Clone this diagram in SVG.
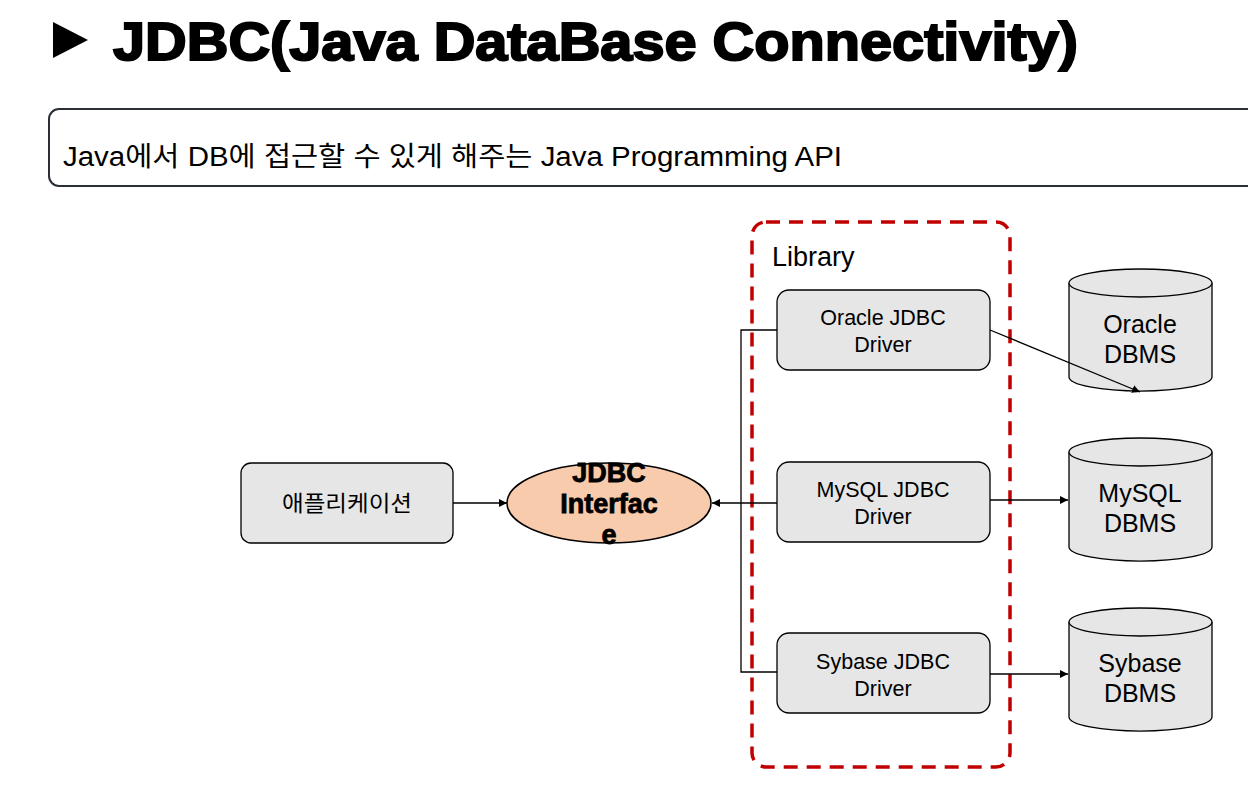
<svg xmlns="http://www.w3.org/2000/svg" width="1248" height="788" viewBox="0 0 1248 788">
<defs>
<marker id="ah" viewBox="0 0 10 10" refX="10" refY="5" markerWidth="8" markerHeight="8" orient="auto" markerUnits="userSpaceOnUse"><path d="M0,0L10,5L0,10z" fill="#000"/></marker>
<style>
text{font-family:"Liberation Sans","Noto Sans CJK KR",sans-serif;fill:#000}
.box{fill:#e6e6e6;stroke:#000;stroke-width:1.3}
.lbl{font-size:21.5px;text-anchor:middle}
.db{fill:#e6e6e6;stroke:#000;stroke-width:1.3}
.dbt{font-size:25px;text-anchor:middle}
.c{fill:none;stroke:#000;stroke-width:1.3}
</style>
</defs>
<rect width="1248" height="788" fill="#fff"/>
<g id="title">
<path d="M53,22L88,40L53,58z" fill="#000"/>
<text x="113" y="60" font-size="53" font-weight="bold" stroke="#000" stroke-width="2" textLength="965" lengthAdjust="spacingAndGlyphs">JDBC(Java DataBase Connectivity)</text>
</g>
<g id="desc">
<rect x="49" y="109" width="1230" height="77" rx="10" fill="#fff" stroke="#2a2f36" stroke-width="2"/>
<text x="63" y="166" font-size="27" textLength="779" lengthAdjust="spacingAndGlyphs">Java에서 DB에 접근할 수 있게 해주는 Java Programming API</text>
</g>
<g id="library">
<rect x="752" y="222" width="258" height="545" rx="14" fill="none" stroke="#c00000" stroke-width="3.5" stroke-dasharray="14,9"/>
<text x="772" y="266" font-size="27">Library</text>
</g>
<g id="app"><rect class="box" x="241" y="463" width="212" height="80" rx="10"/><text x="347" y="511" font-size="22" text-anchor="middle" textLength="130" lengthAdjust="spacingAndGlyphs">애플리케이션</text></g>
<g id="jdbc"><ellipse cx="609" cy="503" rx="102" ry="40" fill="#f8cbad" stroke="#000" stroke-width="1.5"/>
<text font-size="27" font-weight="bold" text-anchor="middle" stroke="#000" stroke-width="0.8"><tspan x="609" y="482">JDBC</tspan><tspan x="609" y="513">Interfac</tspan><tspan x="609" y="544">e</tspan></text></g>
<g id="oracle"><rect class="box" x="777" y="290" width="213" height="80" rx="12"/><text class="lbl"><tspan x="883" y="325">Oracle JDBC</tspan><tspan x="883" y="352">Driver</tspan></text></g>
<g id="mysql"><rect class="box" x="777" y="462" width="213" height="80" rx="12"/><text class="lbl"><tspan x="883" y="497">MySQL JDBC</tspan><tspan x="883" y="524">Driver</tspan></text></g>
<g id="sybase"><rect class="box" x="777" y="633" width="213" height="80" rx="12"/><text class="lbl"><tspan x="883" y="669">Sybase JDBC</tspan><tspan x="883" y="696">Driver</tspan></text></g>
<g id="oracledb"><path class="db" d="M1069,283V377A71,14 0 0 0 1212,377V283"/><ellipse class="db" cx="1140.5" cy="283" rx="71.5" ry="14"/><text class="dbt"><tspan x="1140" y="333">Oracle</tspan><tspan x="1140" y="363">DBMS</tspan></text></g>
<g id="mysqldb"><path class="db" d="M1069,452V547A71,14 0 0 0 1212,547V452"/><ellipse class="db" cx="1140.5" cy="452" rx="71.5" ry="14"/><text class="dbt"><tspan x="1140" y="502">MySQL</tspan><tspan x="1140" y="532">DBMS</tspan></text></g>
<g id="sybasedb"><path class="db" d="M1069,622V717A71,14 0 0 0 1212,717V622"/><ellipse class="db" cx="1140.5" cy="622" rx="71.5" ry="14"/><text class="dbt"><tspan x="1140" y="672">Sybase</tspan><tspan x="1140" y="702">DBMS</tspan></text></g>
<g id="connectors">
<path class="c" d="M777,330H741V672H777"/>
<line class="c" x1="777" y1="503" x2="712" y2="503" marker-end="url(#ah)"/>
<line class="c" x1="453" y1="503" x2="507" y2="503" marker-end="url(#ah)"/>
<line class="c" x1="990" y1="330" x2="1140" y2="392" marker-end="url(#ah)"/>
<line class="c" x1="990" y1="500" x2="1068" y2="500" marker-end="url(#ah)"/>
<line class="c" x1="990" y1="674" x2="1068" y2="674" marker-end="url(#ah)"/>
</g>
</svg>
